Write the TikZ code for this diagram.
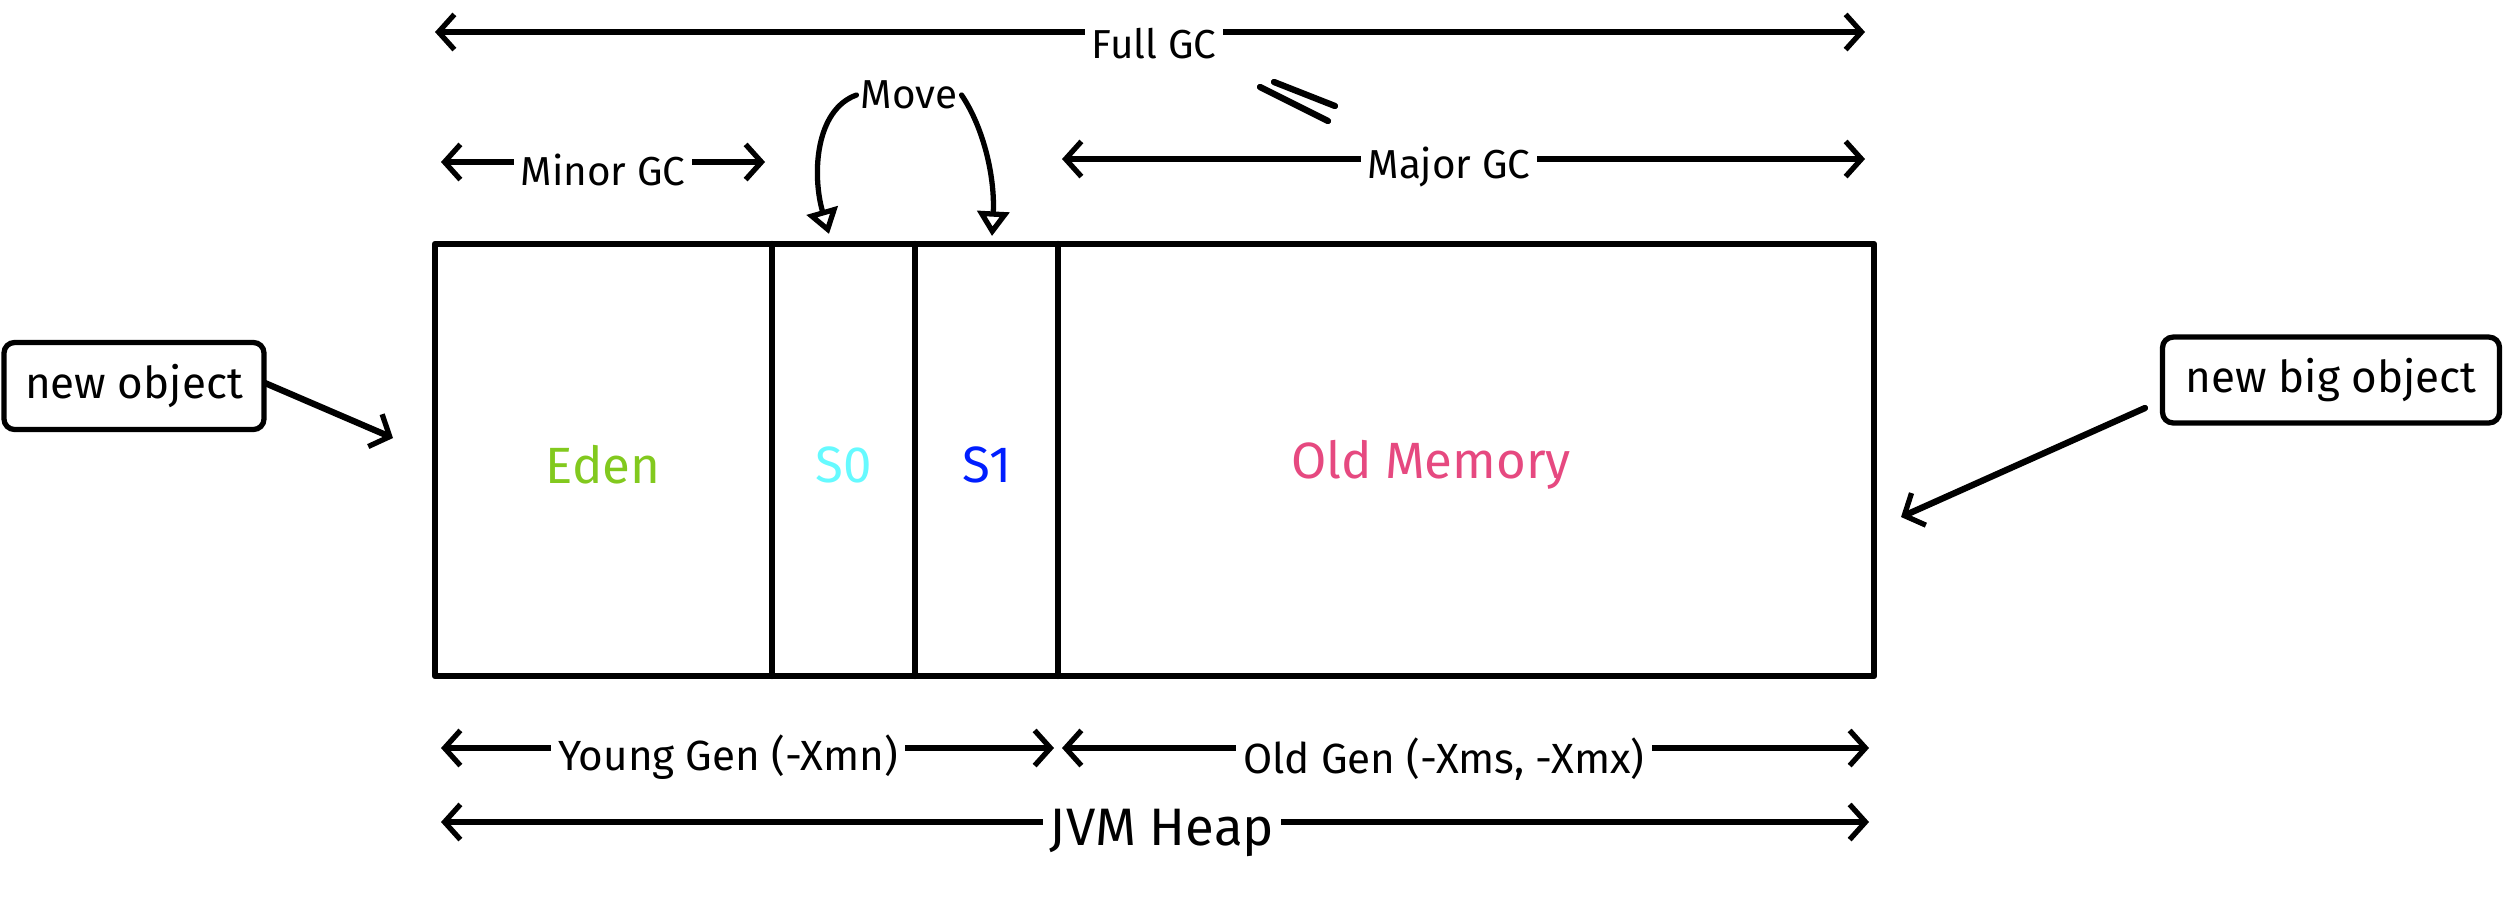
\documentclass[tikz,border=0pt]{standalone}
\usepackage{fontspec}
\setmainfont{Fira Sans}
\usetikzlibrary{arrows.meta}
\definecolor{edengreen}{RGB}{130,201,30}
\definecolor{scyan}{RGB}{102,250,255}
\definecolor{sblue}{RGB}{0,30,255}
\definecolor{oldpink}{RGB}{230,73,128}
\tikzset{
  heapline/.style={line width=1.8pt, line cap=round, line join=round},
  dimarrow/.style={line width=1.8pt, line cap=round, {Straight Barb[length=4.5pt,width=10pt,line width=1.5pt]}-{Straight Barb[length=4.5pt,width=10pt,line width=1.5pt]}},
  onearrow/.style={line width=1.8pt, line cap=round, -{Straight Barb[length=4.5pt,width=10pt,line width=1.5pt]}},
  movearrow/.style={line width=1.5pt, line cap=round, -{Triangle[open,length=7pt,width=9pt,line width=1.5pt]}},
  dimlabel/.style={fill=white, inner sep=2pt, font=\fontsize{11.5}{13}\selectfont},
  area/.style={font=\fontsize{14.5}{16}\selectfont},
  objbox/.style={draw, line width=1.5pt, rounded corners=3pt, inner xsep=6pt, inner ysep=6pt, font=\fontsize{12.5}{14}\selectfont},
}
\begin{document}
\begin{tikzpicture}[x=0.01cm, y=-0.01cm]
\useasboundingbox (0,0) rectangle (2516,896);

% heap rectangle and dividers
\coordinate (tl) at (435,244);
\coordinate (br) at (1874,676);
\draw[heapline] (tl) rectangle (br);
\coordinate (d1t) at (772,244); \coordinate (d1b) at (772,676);
\coordinate (d2t) at (915,244); \coordinate (d2b) at (915,676);
\coordinate (d3t) at (1058,244); \coordinate (d3b) at (1058,676);
\draw[heapline] (d1t) -- (d1b);
\draw[heapline] (d2t) -- (d2b);
\draw[heapline] (d3t) -- (d3b);

\node[area, text=edengreen] (eden) at (603,465) {Eden};
\node[area, text=scyan] (s0) at (844,465) {S0};
\node[area, text=sblue] (s1) at (987,465) {S1};
\node[area, text=oldpink] (old) at (1431,465) {Old Memory};

% Full GC
\coordinate (fgL) at (435,32); \coordinate (fgR) at (1865,32);
\draw[dimarrow] (fgL) -- (fgR);
\node[dimlabel] (fullgc) at (1154,44) {Full GC};

% double slash
\coordinate (sa1) at (1260,87); \coordinate (sa2) at (1328,121);
\coordinate (sb1) at (1274,82); \coordinate (sb2) at (1335,106);
\draw[line width=1.8pt, line cap=round] (sa1) -- (sa2);
\draw[line width=1.8pt, line cap=round] (sb1) -- (sb2);

% Minor GC
\coordinate (mnL) at (441,162); \coordinate (mnR) at (765,162);
\draw[dimarrow] (mnL) -- (mnR);
\node[dimlabel] (minorgc) at (603,170) {Minor GC};

% Major GC
\coordinate (mjL) at (1062,159); \coordinate (mjR) at (1865,159);
\draw[dimarrow] (mjL) -- (mjR);
\node[dimlabel] (majorgc) at (1449,167) {Major GC};

% Move
\node[dimlabel, inner sep=1pt] (move) at (909,95) {Move};
\coordinate (s0top) at (829,234);
\coordinate (s1top) at (992,236);
\draw[movearrow] (move.west) .. controls (815,110) and (812,175) .. (s0top);
\draw[movearrow] (move.east) .. controls (985,130) and (995,180) .. (s1top);

% Young / Old Gen
\coordinate (ygL) at (441,748); \coordinate (ygR) at (1054,748);
\draw[dimarrow] (ygL) -- (ygR);
\node[dimlabel, font=\fontsize{12}{14}\selectfont] (young) at (728,757) {Young Gen (-Xmn)};
\coordinate (ogL) at (1062,748); \coordinate (ogR) at (1869,748);
\draw[dimarrow] (ogL) -- (ogR);
\node[dimlabel, font=\fontsize{12}{14}\selectfont] (oldgen) at (1444,759) {Old Gen (-Xms, -Xmx)};

% JVM Heap
\coordinate (jhL) at (441,822); \coordinate (jhR) at (1869,822);
\draw[dimarrow] (jhL) -- (jhR);
\node[dimlabel, font=\fontsize{15}{17}\selectfont] (jvm) at (1162,833) {JVM Heap};

% new object
\node[objbox, minimum width=240*0.01cm, minimum height=87*0.01cm] (newobj) at (134,386) {new object};
\coordinate (noStart) at (265,383);
\coordinate (newobjtip) at (393,438);
\draw[onearrow] (noStart) -- (newobjtip);

% new big object
\node[objbox, minimum width=337*0.01cm, minimum height=85*0.01cm] (newbig) at (2331,380) {new big object};
\coordinate (nbStart) at (2145,408);
\coordinate (bigtip) at (1901,517);
\draw[onearrow] (nbStart) -- (bigtip);
\end{tikzpicture}
\end{document}
